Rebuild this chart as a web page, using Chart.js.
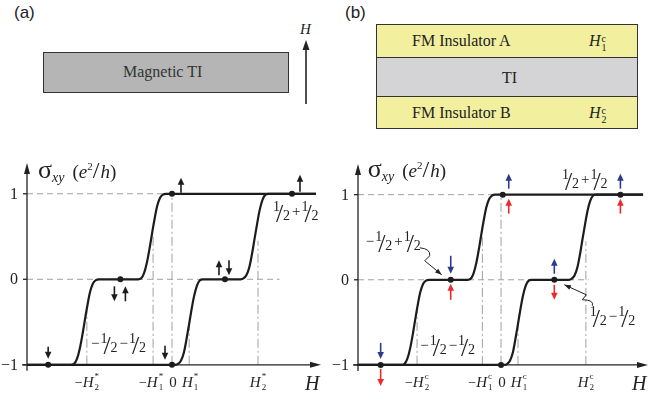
<!DOCTYPE html>
<html>
<head>
<meta charset="utf-8">
<script src="https://cdn.jsdelivr.net/npm/chart.js@4.4.1/dist/chart.umd.min.js"></script>
<style>
  body{margin:0;width:653px;height:397px;position:relative;overflow:hidden;background:#fff;color:#222}
  .tag{position:absolute;top:3px;font-family:'Liberation Sans';font-size:17px;color:#222}
  .box{position:absolute;box-sizing:border-box;border:1px solid #333}
  .t{position:absolute;font-family:'Liberation Serif';font-size:16px;white-space:nowrap;line-height:16px}
  .stack{display:inline-block;vertical-align:-5px;font-size:10px;line-height:9px;margin-left:1px}
  .stack span{display:block}
  canvas{position:absolute}
</style>
</head>
<body>

<div class="tag" style="left:14px">(a)</div>
<div class="box" style="left:43px;top:52px;width:246px;height:41px;background:#b5b5b5"></div>
<div class="t" style="left:123px;top:64px;color:#333">Magnetic TI</div>
<div class="t" style="left:300px;top:21px;font-style:italic;font-size:15px">H</div>
<svg style="position:absolute;left:300px;top:36px" width="14" height="72">
  <line x1="6" y1="68" x2="6" y2="12" stroke="#222" stroke-width="1.6"/>
  <path d="M6 4 L2.5 14 L9.5 14 Z" fill="#222"/>
</svg>

<div class="tag" style="left:345px">(b)</div>
<div class="box" style="left:376px;top:24px;width:262px;height:105px;background:#d4d4d6"></div>
<div class="box" style="left:376px;top:24px;width:262px;height:34px;background:#f2f09e"></div>
<div class="box" style="left:376px;top:96px;width:262px;height:33px;background:#f2f09e"></div>
<div class="t" style="left:412px;top:33px">FM Insulator A</div>
<div class="t" style="left:589px;top:33px"><i>H</i><span class="stack"><span>c</span><span>1</span></span></div>
<div class="t" style="left:502px;top:70px">TI</div>
<div class="t" style="left:412px;top:105px">FM Insulator B</div>
<div class="t" style="left:589px;top:105px"><i>H</i><span class="stack"><span>c</span><span>2</span></span></div>

<canvas id="chartA" width="326" height="257" style="left:0;top:140px"></canvas>
<canvas id="chartB" width="322" height="256" style="left:331px;top:141px"></canvas>

<script>
const SERIF = "'Liberation Serif'";

// lower branch (sweeping H up)
const H_LO = [-1.686, 0.035, 0.070, 0.105, 0.140, 0.174, 0.198, 0.221, 0.256, 0.291, 0.326, 0.360,
              0.797, 0.831, 0.866, 0.901, 0.936, 0.959, 0.983, 1.017, 1.052, 1.087, 1.122, 1.674];
const S_LO = [-1, -1, -0.99, -0.95, -0.85, -0.67, -0.53, -0.39, -0.20, -0.07, -0.01, 0,
              0, 0.01, 0.05, 0.15, 0.33, 0.47, 0.61, 0.80, 0.93, 0.99, 1, 1];
// upper branch (sweeping H down)
const H_UP = [-1.686, -1.174, -1.140, -1.105, -1.070, -1.035, -1.012, -0.988, -0.953, -0.919, -0.884, -0.849,
              -0.395, -0.360, -0.326, -0.291, -0.256, -0.233, -0.209, -0.174, -0.140, -0.105, -0.070, 1.674];
const S_UP = [-1, -1, -0.99, -0.93, -0.80, -0.61, -0.47, -0.33, -0.15, -0.05, -0.01, 0,
              0, 0.01, 0.07, 0.20, 0.39, 0.53, 0.67, 0.85, 0.95, 0.99, 1, 1];

const DOT_H_A = [-1.44, 0, -0.60, 0, 0.616, 1.395];
const DOT_S_A = [-1, -1, 0, 1, 0, 1];
const DOT_H_B = [-1.419, 0, -0.593, 0.02, 0.628, 1.407];
const DOT_S_B = [-1, -1, 0, 1, 0, 1];

const TICK_H = [-0.99, -0.22, 0, 0.2, 1.0];
const TICK_TOP = [-0.35, 0.5, 1, -0.5, 0.45];
const TICKS_A = ['−H_2^*', '−H_1^*', '0', 'H_1^*', 'H_2^*'];
const TICKS_B = ['−H_2^c', '−H_1^c', '0', 'H_1^c', 'H_2^c'];
const Y_TICKS = [-1, 0, 1];
const Y_LABELS = ['−1', '0', '1'];

const pts = (hs, ss) => hs.map((h, i) => ({x: h, y: ss[i]}));
const fnt = p => `${p.it ? 'italic ' : ''}${p.s || 14}px ${SERIF}`;

function parts(ctx, list, x, y, align){
  const w = list.map(p => { ctx.font = fnt(p); return ctx.measureText(p.t).width; });
  let total = 0;
  list.forEach((p, i) => { if(!p.stack) total += w[i] + (p.gap || 0); });
  let cx = align === 'center' ? x - total/2 : align === 'right' ? x - total : x;
  list.forEach((p, i) => {
    ctx.font = fnt(p);
    ctx.fillText(p.t, cx + (p.dx || 0), y + (p.dy || 0));
    if(!p.stack) cx += w[i] + (p.gap || 0);
  });
}

function tickParts(str){
  const m = str.match(/^(−?)H_(.)\^(.)$/);
  if(!m) return [{t: str, s: 15}];
  const out = [];
  if(m[1]) out.push({t: m[1]});
  out.push({t: 'H', it: true, s: 15, gap: 1});
  out.push({t: m[3], s: 9, dy: -8, stack: true});
  out.push({t: m[2], s: 9, dy: 3});
  return out;
}

// slashed one-half
function half(ctx, x, base){
  ctx.font = `14px ${SERIF}`; ctx.fillText('1', x, base - 9);
  ctx.font = `26px ${SERIF}`; ctx.fillText('/', x + 3, base + 2);
  ctx.font = `14px ${SERIF}`; ctx.fillText('2', x + 10, base);
  return 18;
}
function halves(ctx, seq, x, base){
  let cx = x;
  seq.forEach(tok => {
    if(tok === 'F') cx += half(ctx, cx, base);
    else { ctx.font = `15px ${SERIF}`; ctx.fillText(tok, cx + 1, base - 4); cx += ctx.measureText(tok).width + 2; }
  });
}

function arrow(ctx, x, yb, yt, col){
  const dir = yt < yb ? -1 : 1;
  ctx.strokeStyle = col; ctx.fillStyle = col; ctx.lineWidth = 1.6; ctx.setLineDash([]);
  ctx.beginPath(); ctx.moveTo(x, yb); ctx.lineTo(x, yt - dir*4); ctx.stroke();
  ctx.beginPath(); ctx.moveTo(x, yt); ctx.lineTo(x - 3.3, yt - dir*7); ctx.lineTo(x + 3.3, yt - dir*7); ctx.closePath(); ctx.fill();
}

function squiggle(ctx, p0, c, p1, p2, tip){
  ctx.strokeStyle = '#222'; ctx.fillStyle = '#222'; ctx.lineWidth = 1; ctx.setLineDash([]);
  ctx.beginPath(); ctx.moveTo(p0[0], p0[1]); ctx.quadraticCurveTo(c[0], c[1], p1[0], p1[1]);
  ctx.lineTo(p2[0], p2[1]); ctx.lineTo(tip[0], tip[1]); ctx.stroke();
  const a = Math.atan2(tip[1] - p2[1], tip[0] - p2[0]);
  ctx.beginPath(); ctx.moveTo(tip[0], tip[1]);
  ctx.lineTo(tip[0] - 7*Math.cos(a - 0.35), tip[1] - 7*Math.sin(a - 0.35));
  ctx.lineTo(tip[0] - 7*Math.cos(a + 0.35), tip[1] - 7*Math.sin(a + 0.35));
  ctx.closePath(); ctx.fill();
}

function figPlugin(o){
  return {
    id: 'fig' + o.name,
    beforeDatasetsDraw(chart){
      const ctx = chart.ctx, X = v => chart.scales.x.getPixelForValue(v), Y = v => chart.scales.y.getPixelForValue(v);
      const ax = chart.chartArea.left, ca = chart.chartArea;
      ctx.save();
      ctx.strokeStyle = '#a0a0a0'; ctx.lineWidth = 1;
      const ln = (x1, y1, x2, y2) => { ctx.beginPath(); ctx.moveTo(x1, y1); ctx.lineTo(x2, y2); ctx.stroke(); };
      ctx.setLineDash([6, 4]);
      ln(ax, Y(1), X(0), Y(1));
      ln(ax, Y(0), X(o.zeroEnd), Y(0));
      ctx.setLineDash([9, 3, 2, 3]);
      TICK_H.forEach((h, i) => ln(X(h), Y(-1), X(h), Y(TICK_TOP[i])));
      // axes
      ctx.setLineDash([]); ctx.strokeStyle = '#222'; ctx.fillStyle = '#222'; ctx.lineWidth = 1.3;
      ln(ax, Y(-1) + 6, ax, ca.top + 6);
      ln(ax - 5, Y(-1), ca.right - 6, Y(-1));
      Y_TICKS.forEach(v => ln(ax - 4, Y(v), ax, Y(v)));
      ctx.beginPath(); ctx.moveTo(ax, ca.top); ctx.lineTo(ax - 3, ca.top + 11); ctx.lineTo(ax + 3, ca.top + 11); ctx.closePath(); ctx.fill();
      const xr = ca.right - 1;
      ctx.beginPath(); ctx.moveTo(xr, Y(-1)); ctx.lineTo(xr - 11, Y(-1) - 3); ctx.lineTo(xr - 11, Y(-1) + 3); ctx.closePath(); ctx.fill();
      ctx.restore();
    },
    afterDatasetsDraw(chart){
      const ctx = chart.ctx, X = v => chart.scales.x.getPixelForValue(v), Y = v => chart.scales.y.getPixelForValue(v);
      const ax = chart.chartArea.left;
      ctx.save();
      ctx.fillStyle = '#222';
      ctx.textBaseline = 'middle';
      Y_TICKS.forEach((v, i) => parts(ctx, [{t: Y_LABELS[i], s: 16}], ax - 9, Y(v) + 1, 'right'));
      ctx.textBaseline = 'alphabetic';
      const nudge = [0, -2, 1, 1, 0];
      o.ticks.forEach((s, i) => parts(ctx, tickParts(s), X(TICK_H[i]) + nudge[i], Y(-1.26), 'center'));
      parts(ctx, [{t: 'H', it: true, s: 20}], X(1.63), Y(-1.29), 'center');
      parts(ctx, [
        {t: 'σ', s: 26}, {t: 'xy', it: true, s: 14, dy: 4, gap: 8},
        {t: '(', s: 19}, {t: 'e', it: true, s: 19}, {t: '2', s: 11, dy: -8}, {t: '/', s: 24, gap: 1},
        {t: 'h', it: true, s: 19}, {t: ')', s: 19}
      ], X(o.title[0]), Y(o.title[1]), 'left');
      o.arrows.forEach(a => {
        const dx = X(o.dotH[a[0]]), dy = Y(o.dotS[a[0]]);
        arrow(ctx, dx + a[1], dy + a[2], dy + a[3], a[4]);
      });
      ctx.fillStyle = '#222';
      o.labels.forEach(l => halves(ctx, l.seq, X(l.h), Y(l.s)));
      (o.squiggles || []).forEach(q => {
        const bx = X(o.dotH[q.dot]), by = Y(o.dotS[q.dot]);
        const P = p => [bx + p[0], by + p[1]];
        squiggle(ctx, P(q.p[0]), P(q.p[1]), P(q.p[2]), P(q.p[3]), P(q.p[4]));
      });
      ctx.restore();
    }
  };
}

function makeChart(id, o){
  const c = document.getElementById(id);
  return new Chart(c, {
    type: 'scatter',
    data: {
      datasets: [
        {data: pts(H_LO, S_LO), showLine: true, borderColor: '#1c1c1c', borderWidth: 2.2, pointRadius: 0, cubicInterpolationMode: 'monotone'},
        {data: pts(H_UP, S_UP), showLine: true, borderColor: '#1c1c1c', borderWidth: 2.2, pointRadius: 0, cubicInterpolationMode: 'monotone'},
        {data: pts(o.dotH, o.dotS), showLine: false, pointRadius: 3, backgroundColor: '#1c1c1c', borderWidth: 0}
      ]
    },
    options: {
      responsive: false, animation: false, devicePixelRatio: 1,
      layout: {padding: {left: 27, right: o.padR, top: 23, bottom: 0}},
      scales: {
        x: {type: 'linear', min: -1.686, max: 1.744, display: false},
        y: {type: 'linear', min: -1.33, max: 1.36, display: false}
      },
      plugins: {legend: {display: false}, tooltip: {enabled: false}},
      elements: {line: {tension: 0.4}}
    },
    plugins: [figPlugin(o)]
  });
}

const BLK = '#1c1c1c', BLU = '#2e3a8f', RED = '#ec2a2e';

makeChart('chartA', {
  name: 'A', padR: 4, zeroEnd: 1.25, ticks: TICKS_A, title: [-1.558, 1.19],
  dotH: DOT_H_A, dotS: DOT_S_A,
  arrows: [
    [0, 0, -18, -6, BLK], [1, -7, -19, -5, BLK], [3, 9, -1, -16, BLK], [5, 8, -2, -19, BLK],
    [2, -6, 7, 22, BLK], [2, 5, 22, 7, BLK], [4, -6, -4, -19, BLK], [4, 4, -19, -4, BLK]
  ],
  labels: [
    {seq: ['F', '+', 'F'], h: 1.174, s: 0.69},
    {seq: ['−', 'F', '−', 'F'], h: -0.953, s: -0.85}
  ]
});

makeChart('chartB', {
  name: 'B', padR: 0, zeroEnd: 1.035, ticks: TICKS_B, title: [-1.57, 1.21],
  dotH: DOT_H_B, dotS: DOT_S_B,
  arrows: [
    [0, 0, -22, -6, BLU], [0, 0, 4, 21, RED],
    [3, 6, -6, -21, BLU], [3, 6, 19, 4, RED],
    [5, 0, -6, -21, BLU], [5, 0, 19, 4, RED],
    [2, 0, -24, -6, BLU], [2, 0, 20, 4, RED],
    [4, 0, -6, -21, BLU], [4, 0, 5, 20, RED]
  ],
  labels: [
    {seq: ['F', '+', 'F'], h: 0.72, s: 1.08},
    {seq: ['−', 'F', '+', 'F'], h: -1.605, s: 0.35},
    {seq: ['−', 'F', '−', 'F'], h: -0.965, s: -0.87},
    {seq: ['F', '−', 'F'], h: 1.047, s: -0.53}
  ],
  squiggles: [
    {dot: 2, p: [[-31, -32], [-20, -31], [-21, -24], [-26, -19], [-9, -5]]},
    {dot: 4, p: [[38, 26], [40, 20], [28, 20], [32, 15], [10, 5]]}
  ]
});
</script>
</body>
</html>
